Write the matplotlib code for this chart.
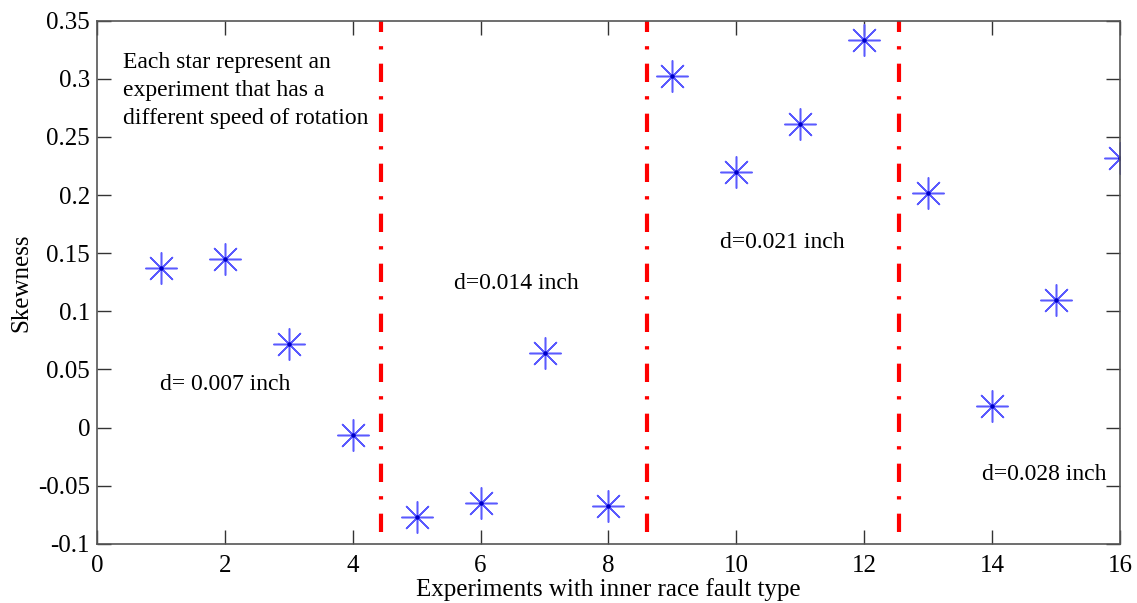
import numpy as np
from matplotlib import pyplot as plt

experiments = [1, 2, 3, 4, 5, 6, 7, 8, 9, 10, 11, 12, 13, 14, 15, 16]
skewness = [0.137, 0.145, 0.072, -0.0065, -0.077, -0.065, 0.064, -0.067,
            0.302, 0.220, 0.261, 0.333, 0.202, 0.019, 0.110, 0.232]
boundaries = [4.45, 8.6, 12.55]
group_labels = ["d= 0.007 inch", "d=0.014 inch", "d=0.021 inch", "d=0.028 inch"]
label_pos = [(0.98, 0.037), (5.58, 0.124), (9.75, 0.159), (13.85, -0.040)]

plt.rcParams['font.family'] = ['Liberation Serif', 'DejaVu Serif']

fig = plt.figure(figsize=(11.37, 6.03), dpi=100)
ax = fig.add_axes([0.0853, 0.098, 0.8997, 0.8677])

# MATLAB style asterisk: 8 spokes + small dark centre
ax.plot(experiments, skewness, linestyle='none', marker=(8, 2, 0),
        markersize=23, markeredgewidth=1.1, color='#5a5aff')
ax.plot(experiments, skewness, linestyle='none', marker='o',
        markersize=2.2, color='#0000c8')

for b in boundaries:
    ax.plot([b, b], [-0.09, 0.35], color='red', linewidth=3,
            linestyle=(0, (4.4, 3.4, 0.8, 3.4)))

for txt, (x, y) in zip(group_labels, label_pos):
    ax.text(x, y, txt, fontsize=17, va='center', ha='left')

ax.text(0.41, 0.290, "Each star represent an\nexperiment that has a\ndifferent speed of rotation",
        fontsize=17, va='center', ha='left', linespacing=1.42)

ax.set_xlim(0, 16)
ax.set_ylim(-0.1, 0.35)
ax.set_xticks(np.arange(0, 17, 2))
ax.set_yticks([-0.1, -0.05, 0, 0.05, 0.1, 0.15, 0.2, 0.25, 0.3, 0.35])
ax.set_yticklabels(['-0.1', '-0.05', '0', '0.05', '0.1', '0.15', '0.2', '0.25', '0.3', '0.35'])
ax.tick_params(direction='in', length=10, width=1, top=True, right=True,
               labelsize=18, color='#333333')
ax.tick_params(axis='x', pad=8)
ax.tick_params(axis='y', pad=5)
for s in ax.spines.values():
    s.set_color('#555555')
    s.set_linewidth(1.2)

ax.set_xlabel("Experiments with inner race fault type", fontsize=18, labelpad=1)
ax.set_ylabel("Skewness", fontsize=18, labelpad=4)

fig.savefig("out.png", dpi=100)
